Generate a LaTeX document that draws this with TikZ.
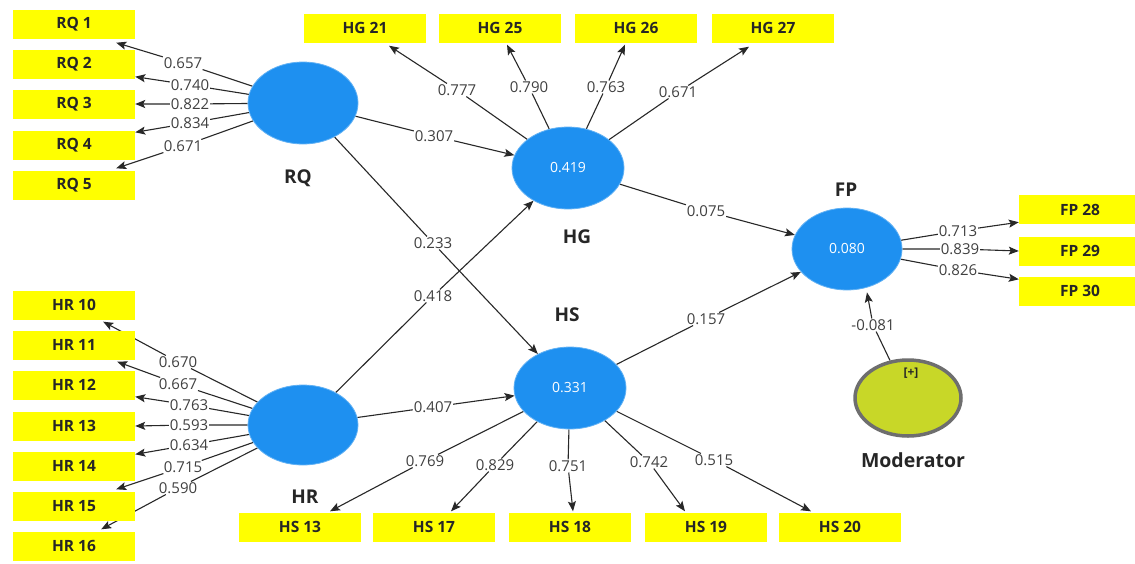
\documentclass[tikz,border=0pt]{standalone}
\usepackage{fontspec}
\setmainfont{Open Sans}
\usetikzlibrary{arrows.meta,shapes.geometric,backgrounds}
\definecolor{boxyellow}{RGB}{255,255,0}
\definecolor{latblue}{RGB}{30,144,240}
\definecolor{modfill}{RGB}{200,215,40}
\definecolor{modline}{RGB}{110,110,110}
\definecolor{lnc}{RGB}{40,40,40}
\begin{document}
\begin{tikzpicture}[x=1pt,y=-1pt,
  ind/.style={fill=boxyellow, minimum width=122pt, minimum height=29pt, inner sep=0pt,
    font=\fontsize{15.5}{15.5}\selectfont\bfseries, text=black!85},
  lat/.style={ellipse, fill=latblue, draw=latblue!70, line width=0.8pt, minimum width=110pt,
    minimum height=82pt, text=white, font=\fontsize{14}{14}\selectfont},
  ld/.style={fill=white, inner sep=0.8pt, text=black!75, font=\fontsize{15}{15}\selectfont},
  lvname/.style={font=\fontsize{19}{19}\selectfont\bfseries, text=black!85},
  arr/.style={draw=lnc, line width=1.1pt, -{Stealth[length=10pt,width=8pt,inset=2pt]}}]
\useasboundingbox (0,0) rectangle (1135,563);

% indicator boxes
\node[ind] (RQ1) at (74,24) {RQ 1};
\node[ind] (RQ2) at (74,64) {RQ 2};
\node[ind] (RQ3) at (74,104) {RQ 3};
\node[ind] (RQ4) at (74,145) {RQ 4};
\node[ind] (RQ5) at (74,185) {RQ 5};

\node[ind] (HR10) at (74,305) {HR 10};
\node[ind] (HR11) at (74,345) {HR 11};
\node[ind] (HR12) at (74,385) {HR 12};
\node[ind] (HR13) at (74,426) {HR 13};
\node[ind] (HR14) at (74,466) {HR 14};
\node[ind] (HR15) at (74,506) {HR 15};
\node[ind] (HR16) at (74,546) {HR 16};

\node[ind] (HG21) at (365,28) {HG 21};
\node[ind] (HG25) at (500,28) {HG 25};
\node[ind] (HG26) at (636,28) {HG 26};
\node[ind] (HG27) at (773,28) {HG 27};

\node[ind] (HS13) at (300,527) {HS 13};
\node[ind] (HS17) at (434,527) {HS 17};
\node[ind] (HS18) at (570,527) {HS 18};
\node[ind] (HS19) at (706,527) {HS 19};
\node[ind] (HS20) at (840,527) {HS 20};

\node[ind] (FP28) at (1080,209.5) {FP 28};
\node[ind] (FP29) at (1080,251) {FP 29};
\node[ind] (FP30) at (1080,291) {FP 30};

% latent variables
\node[lat] (RQ) at (303,103) {};
\node[lat, minimum height=80pt] (HR) at (303,425) {};
\node[lat, minimum width=112pt] (HG) at (568,168) {0.419};
\node[lat, minimum width=112pt] (HS) at (570,388) {0.331};
\node[lat] (FP) at (847,249) {0.080};
\node[ellipse, fill=modfill, draw=modline, line width=3.5pt, minimum width=106pt,
  minimum height=76pt] (Mod) at (908,398) {};
\node[font=\fontsize{12}{12}\selectfont\bfseries, text=black!85] (plus) at (911,373) {[+]};

% latent names
\node[lvname] (nRQ) at (298,178) {RQ};
\node[lvname] (nHR) at (305,497) {HR};
\node[lvname] (nHG) at (577,237) {HG};
\node[lvname] (nHS) at (567,315) {HS};
\node[lvname] (nFP) at (846,190) {FP};
\node[lvname, font=\fontsize{19.5}{19.5}\selectfont\bfseries] (nMod) at (913,460) {Moderator};

% loading labels
\node[ld] (a1) at (183,63) {0.657};
\node[ld] (a2) at (190,85) {0.740};
\node[ld] (a3) at (190,104) {0.822};
\node[ld] (a4) at (190,123) {0.834};
\node[ld] (a5) at (183,146) {0.671};

\node[ld] (b10) at (178,362) {0.670};
\node[ld] (b11) at (178,384) {0.667};
\node[ld] (b12) at (189,405) {0.763};
\node[ld] (b13) at (189,425) {0.593};
\node[ld] (b14) at (189,445) {0.634};
\node[ld] (b15) at (183,467) {0.715};
\node[ld] (b16) at (178,488) {0.590};

\node[ld] (g21) at (457,90) {0.777};
\node[ld] (g25) at (529,87) {0.790};
\node[ld] (g26) at (606,87) {0.763};
\node[ld] (g27) at (678,92) {0.671};

\node[ld] (s13) at (425,461) {0.769};
\node[ld] (s17) at (495,465) {0.829};
\node[ld] (s18) at (568,466) {0.751};
\node[ld] (s19) at (649,462) {0.742};
\node[ld] (s20) at (714,460) {0.515};

\node[ld] (f28) at (958,231) {0.713};
\node[ld] (f29) at (960,249) {0.839};
\node[ld] (f30) at (958,270) {0.826};

% path labels
\node[ld] (p307) at (434,136) {0.307};
\node[ld] (p233) at (433,243) {0.233};
\node[ld] (p418) at (433,296) {0.418};
\node[ld] (p407) at (433,407) {0.407};
\node[ld] (p075) at (706,211) {0.075};
\node[ld] (p157) at (706,319) {0.157};
\node[ld] (p081) at (873,325) {-0.081};

\begin{scope}[on background layer]
\fill[white] (0,0) rectangle (1135,563);
% RQ loadings
\draw[arr] (RQ) -- (a1) -- ([xshift=-19pt,yshift=-4pt]RQ1.south east);
\draw[arr] (RQ) -- (a2) -- ([yshift=2pt]RQ2.south east);
\draw[arr] (RQ) -- (a3) -- (RQ3.east);
\draw[arr] (RQ) -- (a4) -- ([yshift=-2pt]RQ4.north east);
\draw[arr] (RQ) -- (a5) -- ([xshift=-19pt,yshift=2pt]RQ5.north east);
% HR loadings
\draw[arr] (HR) -- (b10) -- ([xshift=-32pt,yshift=-2pt]HR10.south east);
\draw[arr] (HR) -- (b11) -- ([xshift=-18pt,yshift=-2pt]HR11.south east);
\draw[arr] (HR) -- (b12) -- ([yshift=3pt]HR12.south east);
\draw[arr] (HR) -- (b13) -- (HR13.east);
\draw[arr] (HR) -- (b14) -- ([yshift=-3pt]HR14.north east);
\draw[arr] (HR) -- (b15) -- ([xshift=-19pt,yshift=2pt]HR15.north east);
\draw[arr] (HR) -- (b16) -- ([xshift=-34pt,yshift=2pt]HR16.north east);
% HG loadings
\draw[arr] (HG) -- (g21) -- ([xshift=24pt,yshift=-3pt]HG21.south);
\draw[arr] (HG) -- (g25) -- ([xshift=7pt,yshift=-2pt]HG25.south);
\draw[arr] (HG) -- (g26) -- ([xshift=-11pt,yshift=-2pt]HG26.south);
\draw[arr] (HG) -- (g27) -- ([xshift=-24pt,yshift=-4pt]HG27.south);
% HS loadings
\draw[arr] (HS) -- (s13) -- ([xshift=30pt,yshift=1pt]HS13.north);
\draw[arr] (HS) -- (s17) -- ([xshift=17pt,yshift=1pt]HS17.north);
\draw[arr] (HS) -- (s18) -- ([xshift=3pt,yshift=1pt]HS18.north);
\draw[arr] (HS) -- (s19) -- ([xshift=-21pt,yshift=1pt]HS19.north);
\draw[arr] (HS) -- (s20) -- ([xshift=-29pt,yshift=1pt]HS20.north);
% FP loadings
\draw[arr] (FP) -- (f28) -- ([yshift=2pt]FP28.south west);
\draw[arr] (FP) -- (f29) -- (FP29.west);
\draw[arr] (FP) -- (f30) -- ([yshift=-3pt]FP30.north west);
% structural paths
\draw[arr] (RQ) -- (p307) -- (HG);
\draw[arr] (RQ) -- (p233) -- (HS);
\draw[arr] (HR) -- (p418) -- (HG);
\draw[arr] (HR) -- (p407) -- (HS);
\draw[arr] (HG) -- (p075) -- (FP);
\draw[arr] (HS) -- (p157) -- (FP);
\draw[arr] (Mod) -- (p081) -- ([xshift=20pt,yshift=-2pt]FP.south);
\end{scope}
\end{tikzpicture}
\end{document}
